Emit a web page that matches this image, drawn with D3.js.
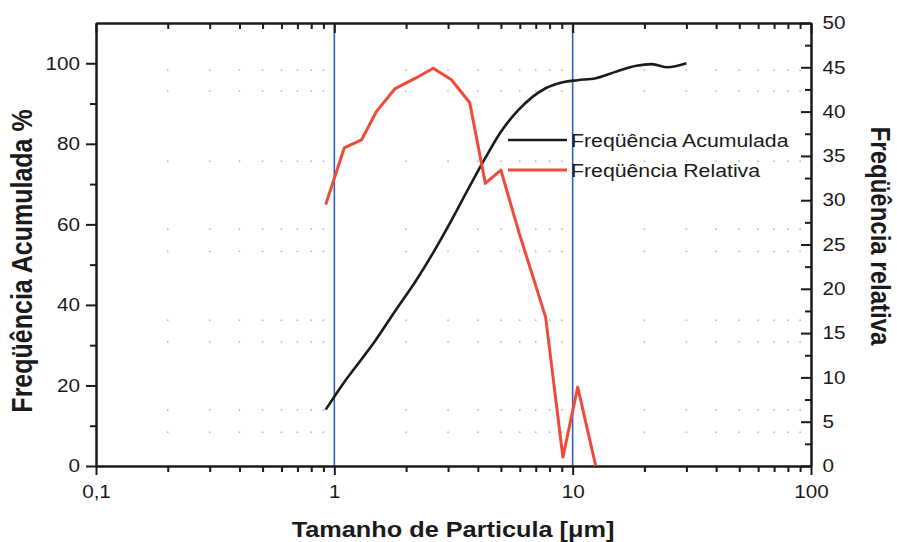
<!DOCTYPE html>
<html>
<head>
<meta charset="utf-8">
<script src="https://cdn.jsdelivr.net/npm/d3@7"></script>
<style>
  body { margin: 0; background: #fff; }
  text { font-family: "Liberation Sans", Arial, sans-serif; fill: #1a1a1a; }
</style>
</head>
<body>
<script>
var width = 897,
    height = 542;

// particle size (um)
var sizes = [0.92, 1.1, 1.3, 1.5, 1.8, 2.2, 2.6, 3.1, 3.7, 4.3, 5.0, 5.9, 7.7, 9.1, 10.5, 12.5, 15, 18.5, 21.5, 25, 30];
// Freqüência Acumulada (%) - left axis
var cumulative = [14, 20.8, 26.5, 31.5, 38.5, 46, 53, 61, 69.5, 76.5, 83, 88.3, 93.8, 95.3, 95.8, 96.3, 97.8, 99.4, 99.8, 99, 100];
// Freqüência Relativa - right axis (stops at 12.5 um)
var relative = [29.5, 35.9, 36.8, 40, 42.6, 43.8, 44.9, 43.6, 41, 31.9, 33.4, 26.7, 16.8, 1.0, 8.9, 0];

var xMajor = [0.1, 1, 10, 100];
var leftMajor = [0, 20, 40, 60, 80, 100],
    leftMinor = [10, 30, 50, 70, 90];
var rightMajor = [0, 5, 10, 15, 20, 25, 30, 35, 40, 45, 50],
    rightMinor = [2.5, 7.5, 12.5, 17.5, 22.5, 27.5, 32.5, 37.5, 42.5, 47.5];
// levels (left axis units) where the faint dot grid shows
var dotLevels = [98.3, 93.1, 75.7, 58.8, 53.3, 36.2, 30.8, 13.9, 8.4];

var legendItems = [
  {name: "Freqüência Acumulada", color: "#1b1b1b"},
  {name: "Freqüência Relativa", color: "#ef4a3a"}
];

var sx = 1.15; // the picture is a bit wider than tall

var x = d3.scaleLog().domain([0.1, 100]).range([96, 811]);
var yL = d3.scaleLinear().domain([0, 110]).range([466, 23]);
var yR = d3.scaleLinear().domain([0, 50]).range([466, 23]);

var xMinor = x.ticks().filter(function(d) { return xMajor.indexOf(d) < 0; });

var svg = d3.select("body").append("svg")
    .attr("width", width)
    .attr("height", height)
    .style("background", "#fff");

// dot grid
var dots = svg.append("g");
dotLevels.forEach(function(v) {
  dots.selectAll(null)
    .data(xMinor)
    .enter().append("circle")
      .attr("cx", function(d) { return x(d); })
      .attr("cy", yL(v))
      .attr("r", 0.9)
      .attr("fill", "#b8b8b8");
});

// blue major grid
svg.append("g").selectAll("line")
    .data([1, 10])
    .enter().append("line")
      .attr("x1", function(d) { return x(d); })
      .attr("x2", function(d) { return x(d); })
      .attr("y1", yL.range()[0])
      .attr("y2", yL.range()[1])
      .attr("stroke", "#3060c0")
      .attr("stroke-width", 1.6);

function fmt(d) { return String(d).replace(".", ","); }

function styleAxis(g) {
  g.select(".domain").attr("stroke", "#1a1a1a").attr("stroke-width", 2);
  g.selectAll(".tick line").attr("stroke", "#1a1a1a").attr("stroke-width", 2);
  g.selectAll(".tick text")
    .attr("font-size", 18)
    .attr("fill", "#1a1a1a")
    .attr("transform", "scale(" + sx + ",1)");
}

// bottom
svg.append("g").attr("transform", "translate(0,466)")
    .call(d3.axisBottom(x).tickValues(xMinor).tickSize(6).tickFormat("").tickSizeOuter(0))
    .call(styleAxis);
svg.append("g").attr("transform", "translate(0,466)")
    .call(d3.axisBottom(x).tickValues(xMajor).tickSize(9).tickPadding(10).tickFormat(fmt).tickSizeOuter(0))
    .call(styleAxis);
// top
svg.append("g").attr("transform", "translate(0,23)")
    .call(d3.axisTop(x).tickValues(xMinor).tickSize(-6).tickFormat("").tickSizeOuter(0))
    .call(styleAxis);
svg.append("g").attr("transform", "translate(0,23)")
    .call(d3.axisTop(x).tickValues(xMajor).tickSize(-10).tickFormat("").tickSizeOuter(0))
    .call(styleAxis);
// left
svg.append("g").attr("transform", "translate(96,0)")
    .call(d3.axisLeft(yL).tickValues(leftMinor).tickSize(6).tickFormat("").tickSizeOuter(0))
    .call(styleAxis);
svg.append("g").attr("transform", "translate(96,0)")
    .call(d3.axisLeft(yL).tickValues(leftMajor).tickSize(10).tickPadding(4).tickSizeOuter(0))
    .call(styleAxis);
// right
svg.append("g").attr("transform", "translate(811,0)")
    .call(d3.axisRight(yR).tickValues(rightMinor).tickSize(-6).tickFormat("").tickSizeOuter(0))
    .call(styleAxis);
svg.append("g").attr("transform", "translate(811,0)")
    .call(d3.axisRight(yR).tickValues(rightMajor).tickSize(-10).tickPadding(10).tickSizeOuter(0))
    .call(styleAxis);

// curves
var cumLine = d3.line()
    .x(function(d, i) { return x(sizes[i]); })
    .y(function(d) { return yL(d); })
    .curve(d3.curveMonotoneX);

var relLine = d3.line()
    .x(function(d, i) { return x(sizes[i]); })
    .y(function(d) { return yR(d); });

svg.append("path")
    .datum(cumulative)
    .attr("d", cumLine)
    .attr("fill", "none")
    .attr("stroke", legendItems[0].color)
    .attr("stroke-width", 2.6);

svg.append("path")
    .datum(relative)
    .attr("d", relLine)
    .attr("fill", "none")
    .attr("stroke", legendItems[1].color)
    .attr("stroke-width", 3)
    .attr("stroke-linejoin", "round");

// legend
var legend = svg.append("g").attr("transform", "translate(508,140)");
var item = legend.selectAll("g")
    .data(legendItems)
    .enter().append("g")
      .attr("transform", function(d, i) { return "translate(0," + (i * 30) + ")"; });
item.append("line")
    .attr("x1", 0).attr("x2", 59)
    .attr("stroke", function(d) { return d.color; })
    .attr("stroke-width", function(d, i) { return i ? 3 : 2.6; });
item.append("text")
    .attr("transform", "translate(63,7) scale(" + sx + ",1)")
    .attr("font-size", 18.5)
    .text(function(d) { return d.name; });

// axis titles
svg.append("text")
    .attr("transform", "translate(453,537) scale(" + sx + ",1)")
    .attr("text-anchor", "middle")
    .attr("font-size", 22)
    .attr("font-weight", "bold")
    .text("Tamanho de Particula [μm]");

svg.append("text")
    .attr("transform", "translate(32,261) scale(" + sx + ",1) rotate(-90)")
    .attr("text-anchor", "middle")
    .attr("font-size", 25)
    .attr("font-weight", "bold")
    .text("Freqüência Acumulada %");

svg.append("text")
    .attr("transform", "translate(871,236) scale(" + sx + ",1) rotate(90)")
    .attr("text-anchor", "middle")
    .attr("font-size", 24)
    .attr("font-weight", "bold")
    .text("Freqüência relativa");
</script>
</body>
</html>
